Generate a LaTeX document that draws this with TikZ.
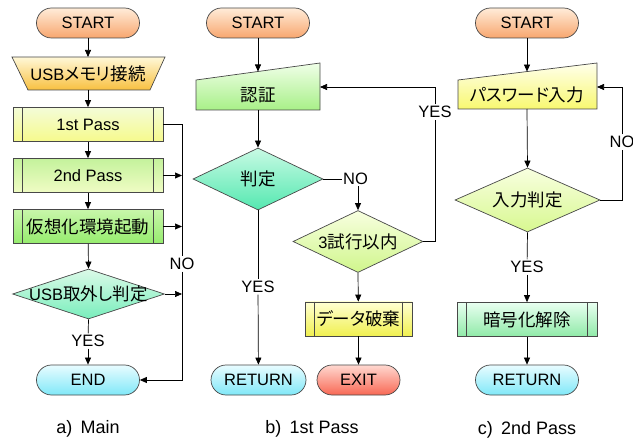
\documentclass[tikz,border=0pt]{standalone}
\usepackage{fontspec}
\setmainfont{Liberation Sans}
\newfontfamily\cjkfam[RawFeature=+palt]{Noto Sans CJK JP}
\newcommand\jp[1]{{\cjkfam\fontsize{17.5}{20}\selectfont #1}}
\usetikzlibrary{shapes.geometric,arrows.meta}
\definecolor{bordc}{HTML}{484848}
\begin{document}
\begin{tikzpicture}[x=1pt,y=1pt,
  txt/.style={font=\fontsize{16.5}{19}\selectfont, inner sep=1pt},
  captxt/.style={font=\fontsize{18}{21}\selectfont, inner sep=1pt},
  base/.style={draw=bordc, line width=0.7pt, inner sep=0pt},
  term/.style={base, txt, rectangle, rounded corners=15pt, minimum width=103pt, minimum height=30pt},
  proc/.style={base, txt, rectangle, minimum width=150pt, minimum height=34pt},
  dia/.style={base, diamond},
  arr/.style={-{Triangle[length=7pt,width=6pt]}, line width=0.7pt},
  ln/.style={line width=0.7pt},
  lab/.style={txt, fill=white, inner sep=1.5pt},
  sorange/.style={top color=orange!15, bottom color={rgb,255:red,248;green,166;blue,110}},
  scyan/.style={top color={rgb,255:red,232;green,252;blue,255}, bottom color={rgb,255:red,128;green,232;blue,248}},
  sred/.style={top color={rgb,255:red,255;green,216;blue,208}, bottom color={rgb,255:red,248;green,104;blue,84}},
]
\useasboundingbox (0,0) rectangle (633,-441);

% ---------- a) Main ----------
\node[term, sorange] (aS) at (88,-23) {START};
\path[base, top color={rgb,255:red,255;green,248;blue,216}, bottom color={rgb,255:red,248;green,192;blue,64}]
  (12,-57) -- (165,-57) -- (150,-90) -- (28,-90) -- cycle;
\node[txt] (aU) at (88,-73.5) {USB\jp{メモリ接続}};
\coordinate (aUt) at (88,-57);
\coordinate (aUb) at (88,-90);
\node[proc, top color={rgb,255:red,244;green,252;blue,216}, bottom color={rgb,255:red,246;green,250;blue,140}] (a1) at (88,-124.5) {1st Pass};
\node[proc, top color={rgb,255:red,196;green,242;blue,156}, bottom color={rgb,255:red,240;green,252;blue,196}] (a2) at (88,-175.5) {2nd Pass};
\node[proc, top color={rgb,255:red,200;green,246;blue,170}, bottom color={rgb,255:red,150;green,236;blue,110}] (a3) at (88,-226.5) {\jp{仮想化環境起動}};
\node[dia, minimum width=152pt, minimum height=50pt, top color={rgb,255:red,220;green,250;blue,232}, bottom color={rgb,255:red,120;green,238;blue,188}] (a4) at (88.5,-294) {};
\node[txt] at (a4) {USB\jp{取外し判定}};
\node[term, scyan] (aE) at (88,-380) {END};
\node[lab] (aY) at (88,-341) {YES};
\node[lab] (aN) at (182,-264) {NO};
\node[captxt] (ca) at (88,-429) {a)\hspace{0.45em}Main};
\foreach \n in {a1,a2,a3}{
  \draw[base] ([xshift=10pt]\n.north west) -- ([xshift=10pt]\n.south west);
  \draw[base] ([xshift=-10pt]\n.north east) -- ([xshift=-10pt]\n.south east);
}
\draw[arr] (aS) -- (aUt);
\draw[arr] (aUb) -- (a1);
\draw[arr] (a1) -- (a2);
\draw[arr] (a2) -- (a3);
\draw[arr] (a3) -- (a4.north);
\draw[ln] (a4.south) -- (aY);
\draw[arr] (aY) -- (aE);
\coordinate (aR) at (182,-124.5);
\draw[ln] (a1.east) -- (aR) -- (aN);
\draw[arr] (aN) |- (aE.east);
\draw[arr] (a2.east) -- (aR |- a2.east);
\draw[arr] (a3.east) -- (aR |- a3.east);
\draw[arr] (a4.east) -- (aR |- a4.east);

% ---------- b) 1st Pass ----------
\node[term, sorange] (bS) at (258,-23) {START};
\path[base, top color={rgb,255:red,240;green,255;blue,232}, bottom color={rgb,255:red,168;green,240;blue,136}]
  (196,-80) -- (320,-63) -- (320,-110) -- (196,-110) -- cycle;
\node[txt] (bA) at (258,-95.5) {\jp{認証}};
\coordinate (bAt) at (258,-71.5);
\coordinate (bAe) at (320,-87);
\coordinate (bAb) at (258,-110);
\node[dia, minimum width=130pt, minimum height=62pt, top color={rgb,255:red,200;green,250;blue,228}, bottom color={rgb,255:red,84;green,232;blue,176}] (bJ) at (258,-179) {};
\node[txt] at (bJ) {\jp{判定}};
\node[txt, anchor=west] (bN) at (342,-179) {NO};
\node[dia, minimum width=130pt, minimum height=62pt, top color={rgb,255:red,248;green,255;blue,224}, bottom color={rgb,255:red,208;green,246;blue,140}] (bT) at (358,-241.5) {};
\node[txt] at (bT) {3\jp{試行以内}};
\node[proc, minimum width=107pt, top color={rgb,255:red,255;green,255;blue,210}, bottom color={rgb,255:red,240;green,240;blue,80}] (bD) at (358.5,-319) {\jp{データ破棄}};
\draw[base] ([xshift=10pt]bD.north west) -- ([xshift=10pt]bD.south west);
\draw[base] ([xshift=-10pt]bD.north east) -- ([xshift=-10pt]bD.south east);
\node[term, scyan, minimum width=95pt] (bR) at (258.5,-380) {RETURN};
\node[term, sred, minimum width=83pt] (bX) at (358.5,-380) {EXIT};
\node[lab] (bY) at (258,-287) {YES};
\node[lab] (bY2) at (435,-112) {YES};
\node[captxt] (cb) at (312,-429) {b)\hspace{0.45em}1st Pass};
\draw[arr] (bS) -- (bAt);
\draw[arr] (bAb) -- (bJ.north);
\draw[ln] (bJ.south) -- (bY);
\draw[arr] (bY) -- (bR);
\draw[ln] (bJ.east) -- (bN.west);
\draw[arr] (bT.north |- bN.south) -- (bT.north);
\draw[ln] (bT.east) -| (bY2);
\draw[arr] (bY2) |- (bAe);
\draw[arr] (bT.south) -- (bD);
\draw[arr] (bD) -- (bX);

% ---------- c) 2nd Pass ----------
\node[term, sorange] (cS) at (527,-23) {START};
\path[base, top color={rgb,255:red,255;green,255;blue,236}, bottom color={rgb,255:red,248;green,248;blue,112}]
  (458,-80) -- (597,-63) -- (597,-109) -- (458,-109) -- cycle;
\node[txt] (cP) at (527,-95) {\jp{パスワード入力}};
\coordinate (cPt) at (527,-71.6);
\coordinate (cPe) at (597,-87);
\coordinate (cPb) at (527,-109);
\node[dia, minimum width=145pt, minimum height=64pt, top color={rgb,255:red,248;green,255;blue,224}, bottom color={rgb,255:red,216;green,248;blue,144}] (cJ) at (527.5,-200) {};
\node[txt] at (cJ) {\jp{入力判定}};
\node[lab] (cN) at (622,-142) {NO};
\node[lab] (cY) at (527,-267) {YES};
\node[proc, minimum width=140pt, top color={rgb,255:red,232;green,255;blue,240}, bottom color={rgb,255:red,144;green,234;blue,168}] (cD) at (527,-319.5) {\jp{暗号化解除}};
\draw[base] ([xshift=10pt]cD.north west) -- ([xshift=10pt]cD.south west);
\draw[base] ([xshift=-10pt]cD.north east) -- ([xshift=-10pt]cD.south east);
\node[term, scyan] (cR) at (527,-380) {RETURN};
\node[captxt] (cc) at (527,-430) {c)\hspace{0.45em}2nd Pass};
\draw[arr] (cS) -- (cPt);
\draw[arr] (cPb) -- (cJ.north);
\draw[ln] (cJ.east) -| (cN);
\draw[arr] (cN) |- (cPe);
\draw[ln] (cJ.south) -- (cY);
\draw[arr] (cY) -- (cD);
\draw[arr] (cD) -- (cR);
\end{tikzpicture}
\end{document}
